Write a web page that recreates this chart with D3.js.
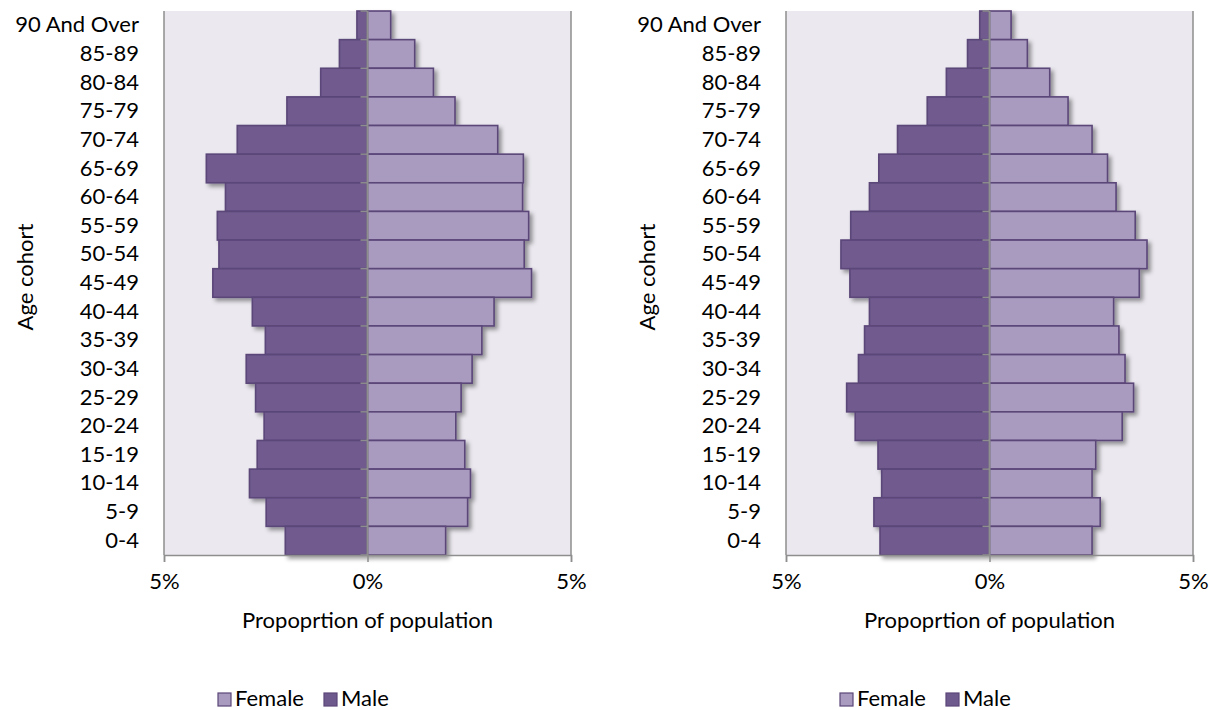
<!DOCTYPE html>
<html>
<head>
<meta charset="utf-8">
<script src="https://cdn.jsdelivr.net/npm/d3@7/dist/d3.min.js"></script>
<style>
  html, body { margin: 0; padding: 0; background: #ffffff; }
  svg { display: block; }
  text { font-family: Lato, "Open Sans", sans-serif; fill: #000; }
</style>
</head>
<body>
<svg id="chart" width="1209" height="710"></svg>
<script>
// ---- Data (top to bottom as displayed) ----
const categories = ["90 And Over","85-89","80-84","75-79","70-74","65-69","60-64","55-59","50-54","45-49","40-44","35-39","30-34","25-29","20-24","15-19","10-14","5-9","0-4"];

const leftMale   = [0.26,0.69,1.15,1.98,3.20,3.96,3.49,3.69,3.65,3.80,2.83,2.51,2.98,2.75,2.54,2.71,2.90,2.49,2.02];
const leftFemale = [0.57,1.16,1.62,2.15,3.20,3.83,3.81,3.96,3.85,4.03,3.11,2.81,2.57,2.30,2.17,2.39,2.53,2.46,1.92];

const rightMale   = [0.24,0.54,1.06,1.53,2.26,2.72,2.95,3.41,3.65,3.43,2.95,3.07,3.22,3.51,3.30,2.74,2.65,2.84,2.69];
const rightFemale = [0.53,0.93,1.48,1.93,2.52,2.90,3.11,3.58,3.87,3.68,3.05,3.18,3.33,3.54,3.26,2.61,2.52,2.72,2.52];

const xTicks = [-5, 0, 5];
const seriesNames = ["Female", "Male"];
const xTitle = "Propoprtion of population";
const yTitle = "Age cohort";

// ---- Styles ----
const COL_MALE = "#6f5a8e";
const COL_FEMALE = "#a99abf";
const COL_STROKE = "#5b4679";
const COL_BG = "#ebe9ef";
const COL_AXIS = "#8e8e8e";
const FS = "22px";

const svg = d3.select("#chart");
const defs = svg.append("defs");
const f = defs.append("filter").attr("id", "shadow")
  .attr("x", "-10%").attr("y", "-20%").attr("width", "130%").attr("height", "160%");
f.append("feDropShadow").attr("dx", 3).attr("dy", 3).attr("stdDeviation", 2)
  .attr("flood-color", "#000").attr("flood-opacity", 0.4);

function drawPanel(offsetX, male, female) {
  const x0 = 164 + offsetX, x1 = 571 + offsetX, yTop = 11, yBot = 555;
  const g = svg.append("g");

  const x = d3.scaleLinear().domain([-5, 5]).range([x0, x1]);
  const y = d3.scaleBand().domain(categories).range([yTop, yBot]).padding(0);

  // plot background
  g.append("rect").attr("x", x0).attr("y", yTop).attr("width", x1 - x0).attr("height", yBot - yTop)
    .attr("fill", COL_BG);
  // side borders
  [x0, x1].forEach(xx => {
    g.append("line").attr("x1", xx).attr("x2", xx).attr("y1", yTop).attr("y2", yBot)
      .attr("stroke", COL_AXIS).attr("stroke-width", 1.5);
  });

  const data = categories.map((c, i) => ({ c, m: male[i], f: female[i] }));

  const bars = g.append("g").attr("filter", "url(#shadow)");
  bars.selectAll("rect.male").data(data).join("rect").attr("class", "male")
    .attr("x", d => x(-d.m)).attr("width", d => x(0) - x(-d.m))
    .attr("y", d => y(d.c)).attr("height", y.bandwidth())
    .attr("fill", COL_MALE).attr("stroke", COL_STROKE).attr("stroke-width", 1.6);
  bars.selectAll("rect.female").data(data).join("rect").attr("class", "female")
    .attr("x", x(0)).attr("width", d => x(d.f) - x(0))
    .attr("y", d => y(d.c)).attr("height", y.bandwidth())
    .attr("fill", COL_FEMALE).attr("stroke", COL_STROKE).attr("stroke-width", 1.6);

  // category axis at zero: line + ticks between categories
  const edges = categories.map(c => y(c)).concat([yBot]);
  g.selectAll("line.ctick").data(edges).join("line").attr("class", "ctick")
    .attr("x1", x(0) - 7).attr("x2", x(0)).attr("y1", d => d).attr("y2", d => d)
    .attr("stroke", COL_AXIS).attr("stroke-width", 1.5);
  g.append("line").attr("x1", x(0)).attr("x2", x(0)).attr("y1", yTop).attr("y2", yBot)
    .attr("stroke", COL_AXIS).attr("stroke-width", 2);

  // category labels
  const yAxis = g.append("g").attr("transform", `translate(${x0},0)`)
    .call(d3.axisLeft(y).tickSize(0).tickPadding(25));
  yAxis.select(".domain").remove();
  yAxis.selectAll("text").style("font-family", "Lato, sans-serif").style("font-size", FS).attr("fill", "#000");

  // bottom axis
  const xAxis = g.append("g").attr("transform", `translate(0,${yBot})`)
    .call(d3.axisBottom(x).tickValues(xTicks).tickSize(7).tickPadding(11)
      .tickFormat(d => Math.abs(d) + "%"));
  xAxis.select(".domain").attr("stroke", COL_AXIS).attr("stroke-width", 1.5);
  xAxis.selectAll(".tick line").attr("stroke", COL_AXIS).attr("stroke-width", 1.5);
  xAxis.selectAll("text").style("font-family", "Lato, sans-serif").style("font-size", FS).attr("fill", "#000");

  // axis titles
  g.append("text").attr("x", (x0 + x1) / 2).attr("y", 628).attr("text-anchor", "middle")
    .style("font-size", FS).text(xTitle);
  g.append("text").attr("transform", `translate(${x0 - 131},277) rotate(-90)`)
    .attr("text-anchor", "middle").style("font-size", FS).text(yTitle);

  // legend
  const lg = g.append("g");
  const items = [{ n: seriesNames[0], c: COL_FEMALE, x: 218 + offsetX }, { n: seriesNames[1], c: COL_MALE, x: 324 + offsetX }];
  items.forEach(it => {
    lg.append("rect").attr("x", it.x).attr("y", 693).attr("width", 13).attr("height", 13)
      .attr("fill", it.c).attr("stroke", COL_STROKE).attr("stroke-width", 1.2);
    lg.append("text").attr("x", it.x + 17).attr("y", 706).style("font-size", FS).text(it.n);
  });
}

drawPanel(0, leftMale, leftFemale);
drawPanel(622, rightMale, rightFemale);
</script>
</body>
</html>
